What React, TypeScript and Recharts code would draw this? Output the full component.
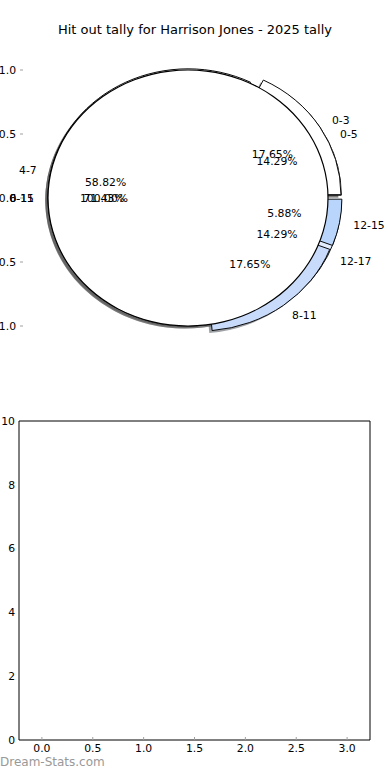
import React from "react";
import { PieChart, Pie, Cell, ScatterChart, ComposedChart, Bar, XAxis, YAxis } from "recharts";

// three overlaid tally rings (matplotlib style pies, all exploded by 0.05)
const ringABands = ["0-3", "4-7", "8-11", "12-15"];
const ringACounts = [3, 10, 3, 1];
const ringBBands = ["0-5", "6-11", "12-17"];
const ringBCounts = [1, 5, 1];
const ringCBands = ["0-15"];
const ringCCounts = [1];

const unitTicks = [-1, -0.5, 0, 0.5, 1];

// lower panel: empty bar chart
const quarterSlots = [0, 1, 2, 3];
const quarterHitOuts = [0, 0, 0, 0];
const countTicks = [0, 2, 4, 6, 8, 10];
const slotTicks = [0, 0.5, 1, 1.5, 2, 2.5, 3];

const ringAFill = ["#ffffff", "#ffffff", "#c8dbfb", "#b9d5fb"];
const ringBFill = ["#ffffff", "#ffffff", "#e2ecfd"];
const ringCFill = ["#ffffff"];

const FONT = "'DejaVu Sans', sans-serif";
const PX = 140; // px per unit, x
const PY = 128; // px per unit, y
const SQUASH = PY / PX;
const CX = 195;
const CY = 195;
const EXPLODE = 0.05;
const SHADOW = 0.02;
const TICK_GREY = "#a0a0a0";

type Ring = { names: string[]; counts: number[]; fills: string[] };

const ringA: Ring = { names: ringABands, counts: ringACounts, fills: ringAFill };
const ringB: Ring = { names: ringBBands, counts: ringBCounts, fills: ringBFill };
const ringC: Ring = { names: ringCBands, counts: ringCCounts, fills: ringCFill };

const rows = (r: Ring) => r.names.map((name, i) => ({ name, value: r.counts[i] }));

function midAngle(counts: number[], i: number) {
  const total = counts.reduce((s, v) => s + v, 0);
  const before = counts.slice(0, i).reduce((s, v) => s + v, 0);
  return ((before + counts[i] / 2) / total) * 360;
}

function darken(hex: string) {
  const n = parseInt(hex.slice(1), 16);
  const r = Math.round(((n >> 16) & 255) * 0.3);
  const g = Math.round(((n >> 8) & 255) * 0.3);
  const b = Math.round((n & 255) * 0.3);
  return `rgb(${r},${g},${b})`;
}

function wedge(r: Ring, i: number, key: string, shadow: boolean) {
  const a = (midAngle(r.counts, i) * Math.PI) / 180;
  let cx = CX + EXPLODE * PX * Math.cos(a);
  let cy = CY - EXPLODE * PX * Math.sin(a);
  if (shadow) {
    cx -= SHADOW * PX;
    cy += SHADOW * PX;
  }
  // a lone 100% wedge is a plain circle: no radius seam, outline drawn as a thin ring
  const whole = r.counts.length === 1;
  const out = [
    <Pie
      key={key}
      data={rows(r)}
      dataKey="value"
      nameKey="name"
      cx={cx}
      cy={cy}
      innerRadius={0}
      outerRadius={PX}
      startAngle={0}
      endAngle={360}
      label={false}
      labelLine={false}
      isAnimationActive={false}
    >
      {r.counts.map((_, j) =>
        j !== i ? (
          <Cell key={j} fill="none" stroke="none" />
        ) : shadow ? (
          <Cell key={j} fill={darken(r.fills[j])} fillOpacity={0.5} stroke="none" />
        ) : (
          <Cell key={j} fill={r.fills[j]} stroke={whole ? "none" : "#000"} strokeWidth={1} />
        )
      )}
    </Pie>,
  ];
  if (whole && !shadow) {
    out.push(
      <Pie
        key={`${key}-edge`}
        data={rows(r)}
        dataKey="value"
        cx={cx}
        cy={cy}
        innerRadius={PX - 0.6}
        outerRadius={PX + 0.6}
        startAngle={0}
        endAngle={360}
        label={false}
        labelLine={false}
        stroke="none"
        fill="#000"
        isAnimationActive={false}
      />
    );
  }
  return out;
}

function ringLabels(r: Ring, key: string) {
  const renderLabel = (p: any) => {
    const a = (p.midAngle * Math.PI) / 180;
    const cos = Math.cos(a);
    const sin = Math.sin(a);
    const lx = CX + (EXPLODE + 1.1) * PX * cos;
    const ly = CY - (EXPLODE + 1.1) * PX * sin;
    const tx = CX + (EXPLODE + 0.6) * PX * cos;
    const ty = CY - (EXPLODE + 0.6) * PX * sin;
    const name = p.payload?.name ?? p.name;
    return (
      <g key={`${key}-${p.index}`}>
        <text
          transform={`translate(${lx},${ly}) scale(1,${1 / SQUASH})`}
          textAnchor={cos > 0 ? "start" : "end"}
          dominantBaseline="central"
          fontSize={10.8}
          fill="#000"
        >
          {name}
        </text>
        <text
          transform={`translate(${tx},${ty}) scale(1,${1 / SQUASH})`}
          textAnchor="middle"
          dominantBaseline="central"
          fontSize={10.8}
          fill="#000"
        >
          {`${(p.percent * 100).toFixed(2)}%`}
        </text>
      </g>
    );
  };
  return (
    <Pie
      key={key}
      data={rows(r)}
      dataKey="value"
      nameKey="name"
      cx={CX}
      cy={CY}
      outerRadius={PX}
      startAngle={0}
      endAngle={360}
      label={renderLabel}
      labelLine={false}
      isAnimationActive={false}
    >
      {r.counts.map((_, j) => (
        <Cell key={j} fill="none" stroke="none" />
      ))}
    </Pie>
  );
}

const fmtUnit = (v: number) => v.toFixed(1).replace("-", "\u2212");
const tickText = { fill: "#000", fontSize: 10.8 };

export default function App() {
  const order: Ring[] = [ringB, ringA, ringC];
  const tags = ["B", "A", "C"];
  const barRows = quarterSlots.map((q, i) => ({ slot: q, hitOuts: quarterHitOuts[i] }));

  return (
    <div style={{ position: "absolute", left: 0, top: 0, width: 390, height: 780, background: "#fff", fontFamily: FONT }}>
      <div
        style={{ position: "absolute", left: 20, top: 22, width: 350, textAlign: "center", fontSize: 13, lineHeight: "16px", color: "#000" }}
      >
        Hit out tally for Harrison Jones - 2025 tally
      </div>

      {/* axes of the pie panel */}
      <div style={{ position: "absolute", left: 0, top: 0 }}>
        <ScatterChart width={390} height={390} margin={{ top: 0, right: 0, bottom: 0, left: 0 }}>
          <XAxis xAxisId="b" type="number" orientation="bottom" domain={[-1.25, 1.25]} allowDataOverflow ticks={unitTicks} interval={0}
            tickFormatter={fmtUnit} height={32} axisLine={false} tickLine={{ stroke: TICK_GREY }} tickSize={-3} tickMargin={6} tick={tickText} />
          <XAxis xAxisId="t" type="number" orientation="top" domain={[-1.25, 1.25]} allowDataOverflow ticks={unitTicks} interval={0}
            height={38} axisLine={false} tickLine={{ stroke: TICK_GREY }} tickSize={-3} tick={false} />
          <YAxis yAxisId="l" type="number" orientation="left" domain={[-1.25, 1.25]} allowDataOverflow ticks={unitTicks} interval={0}
            tickFormatter={fmtUnit} width={20} axisLine={false} tickLine={{ stroke: TICK_GREY }} tickSize={-3} tickMargin={7} tick={tickText} />
          <YAxis yAxisId="r" type="number" orientation="right" domain={[-1.25, 1.25]} allowDataOverflow ticks={unitTicks} interval={0}
            width={20} axisLine={false} tickLine={{ stroke: TICK_GREY }} tickSize={-3} tick={false} />
        </ScatterChart>
      </div>

      {/* the rings, squashed to the axes' unequal x/y scale */}
      <div style={{ position: "absolute", left: 0, top: 3, width: 390, height: 390, transform: `scaleY(${SQUASH})`, transformOrigin: "50% 50%" }}>
        <PieChart width={390} height={390} margin={{ top: 0, right: 0, bottom: 0, left: 0 }}>
          {order.flatMap((r, k) => r.counts.flatMap((_, i) => wedge(r, i, `s${tags[k]}${i}`, true)))}
          {order.flatMap((r, k) => r.counts.flatMap((_, i) => wedge(r, i, `w${tags[k]}${i}`, false)))}
          {ringLabels(ringA, "lA")}
          {ringLabels(ringB, "lB")}
          {ringLabels(ringC, "lC")}
        </PieChart>
      </div>

      {/* lower panel */}
      <div style={{ position: "absolute", left: 0, top: 400 }}>
        <ComposedChart width={390} height={370} data={barRows} margin={{ top: 0, right: 0, bottom: 0, left: 0 }}>
          <XAxis xAxisId="b" dataKey="slot" type="number" orientation="bottom" domain={[-0.225, 3.225]} allowDataOverflow ticks={slotTicks} interval={0}
            tickFormatter={(v: number) => v.toFixed(1)} height={30} axisLine={{ stroke: "#000" }} tickLine={{ stroke: TICK_GREY }} tickSize={-3} tickMargin={7} tick={tickText} />
          <XAxis xAxisId="t" dataKey="slot" type="number" orientation="top" domain={[-0.225, 3.225]} allowDataOverflow ticks={slotTicks} interval={0}
            height={21} axisLine={{ stroke: "#000" }} tickLine={{ stroke: TICK_GREY }} tickSize={-3} tick={false} />
          <YAxis yAxisId="l" type="number" orientation="left" domain={[0, 10]} allowDataOverflow ticks={countTicks} interval={0}
            width={19} axisLine={{ stroke: "#000" }} tickLine={false} tickSize={0} tickMargin={4} tick={tickText} />
          <YAxis yAxisId="r" type="number" orientation="right" domain={[0, 10]} allowDataOverflow ticks={countTicks} interval={0}
            width={20} axisLine={{ stroke: "#000" }} tickLine={{ stroke: TICK_GREY }} tickSize={-3} tick={false} />
          <Bar xAxisId="b" yAxisId="l" dataKey="hitOuts" barSize={40} fill="#b9d5fb" isAnimationActive={false} />
        </ComposedChart>
      </div>

      <div style={{ position: "absolute", left: 0, top: 755, fontSize: 12, lineHeight: "14px", color: "#999" }}>Dream-Stats.com</div>
    </div>
  );
}
